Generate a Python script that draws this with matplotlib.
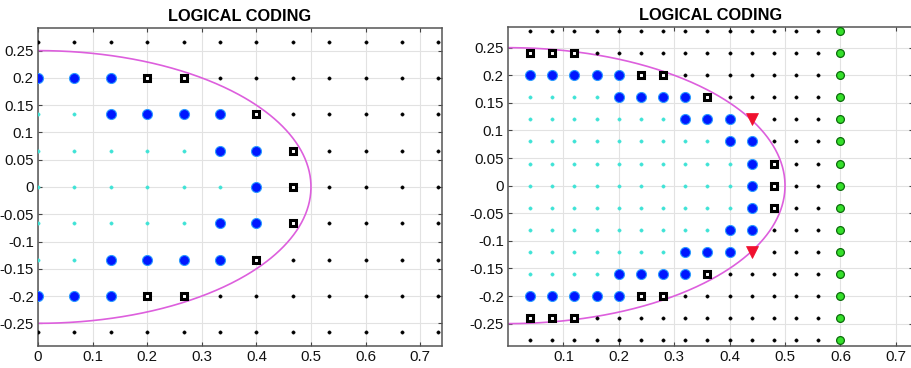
import numpy as np
import matplotlib
matplotlib.use("Agg")
import matplotlib.pyplot as plt

plt.rcParams['font.family'] = ['Liberation Sans', 'DejaVu Sans']

# ---- data ----
title_text = "LOGICAL CODING"
ellipse_a = 0.5
ellipse_b = 0.25

# Left panel: grid spacing 1/15
left_x = [k / 15 for k in range(0, 12)]
left_y = [k / 15 for k in range(4, -5, -1)]
left_rows = [
    "kkkkkkkkkkkk",
    "bbbsskkkkkkk",
    "ccbbbbskkkkk",
    "cccccbbskkkk",
    "ccccccbskkkk",
    "cccccbbskkkk",
    "ccbbbbskkkkk",
    "bbbsskkkkkkk",
    "kkkkkkkkkkkk",
]

# Right panel: grid spacing 0.04
right_x = [0.04 * (i + 1) for i in range(15)]
right_y = [0.04 * k for k in range(7, -8, -1)]
right_rows = [
    "kkkkkkkkkkkkkkg",
    "ssskkkkkkkkkkkg",
    "bbbbbsskkkkkkkg",
    "ccccbbbbskkkkkg",
    "cccccccbbbrkkkg",
    "cccccccccbbkkkg",
    "ccccccccccbskkg",
    "ccccccccccbskkg",
    "ccccccccccbskkg",
    "cccccccccbbkkkg",
    "cccccccbbbrkkkg",
    "ccccbbbbskkkkkg",
    "bbbbbsskkkkkkkg",
    "ssskkkkkkkkkkkg",
    "kkkkkkkkkkkkkkg",
]

left_xticks = [0, 0.1, 0.2, 0.3, 0.4, 0.5, 0.6, 0.7]
right_xticks = [0.1, 0.2, 0.3, 0.4, 0.5, 0.6, 0.7]
yticks = [-0.25, -0.2, -0.15, -0.1, -0.05, 0, 0.05, 0.1, 0.15, 0.2, 0.25]

styles = {
    'k': dict(marker='o', ms=2.4, mfc='black', mec='black', mew=0.3, zorder=3),
    'c': dict(marker='o', ms=2.4, mfc='#3fe3d6', mec='#3fe3d6', mew=0.3, zorder=3),
    'b': dict(marker='o', ms=7.2, mfc='#0018ff', mec='#2d9cff', mew=0.8, zorder=4),
    's': dict(marker='s', ms=5.0, mfc='white', mec='black', mew=2.2, zorder=4),
    'r': dict(marker='v', ms=8.0, mfc='#f0102e', mec='#f0102e', mew=0.5, zorder=5),
    'g': dict(marker='o', ms=5.6, mfc='#35e02a', mec='#0b6b0b', mew=0.9, zorder=4),
}


def fmt(v):
    s = "%g" % round(v, 4)
    return s


def draw_panel(ax, xs, ys, rows, xticks, xlim, ylim):
    t = np.linspace(-np.pi / 2, np.pi / 2, 400)
    ax.plot(ellipse_a * np.cos(t), ellipse_b * np.sin(t), color='#dd5fdd', lw=1.2, zorder=2)
    for y, row in zip(ys, rows):
        for x, code in zip(xs, row):
            ax.plot([x], [y], linestyle='none', **styles[code])
    ax.set_xlim(*xlim)
    ax.set_ylim(*ylim)
    ax.set_xticks(xticks)
    ax.set_xticklabels([fmt(v) for v in xticks])
    ax.set_yticks(yticks)
    ax.set_yticklabels([fmt(v) for v in yticks])
    ax.grid(True, color='#e2e2e2', lw=0.8, zorder=0)
    ax.set_axisbelow(True)
    ax.tick_params(direction='in', length=3, width=0.8, color='#444', top=True, right=True,
                   labelsize=10.8, labelcolor='#111', pad=3)
    for sp in ax.spines.values():
        sp.set_color('#555')
        sp.set_linewidth(1.1)
    ax.set_title(title_text, fontsize=11.8, fontweight='bold', pad=5)


fig = plt.figure(figsize=(9.11, 3.68), dpi=100)
ax1 = fig.add_axes([38 / 911, 22.3 / 368, 404 / 911, 318 / 368])
ax2 = fig.add_axes([508 / 911, 22.3 / 368, 405 / 911, 319 / 368])

draw_panel(ax1, left_x, left_y, left_rows, left_xticks, (0, 0.74), (-0.291, 0.292))
draw_panel(ax2, right_x, right_y, right_rows, right_xticks, (0.0, 0.731), (-0.29, 0.288))

fig.savefig("out.png", dpi=100)
